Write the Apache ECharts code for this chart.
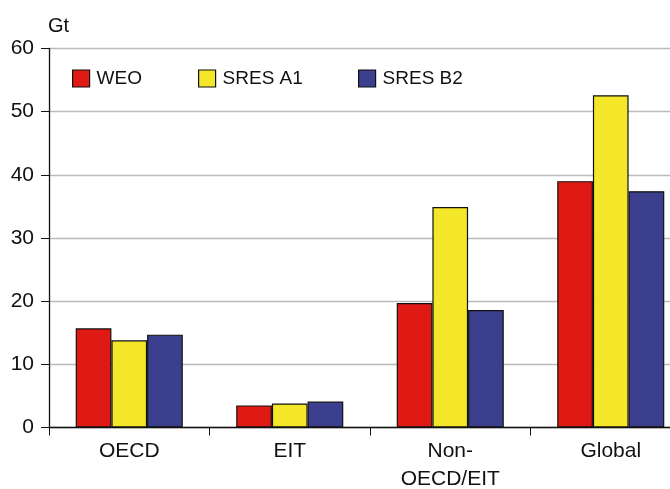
<!DOCTYPE html>
<html><head><meta charset="utf-8">
<script src="https://cdn.jsdelivr.net/npm/echarts@6/dist/echarts.min.js"></script>
<style>html,body{margin:0;padding:0;background:#fff}#c{width:670px;height:489px}</style>
</head><body><div id="c"></div>
<script>
const categories = ['OECD', 'EIT', 'Non-\nOECD/EIT', 'Global'];
const weo = [15.7, 3.5, 19.7, 39.0];
const sresA1 = [13.8, 3.8, 34.9, 52.6];
const sresB2 = [14.7, 4.1, 18.6, 37.4];
const seriesNames = ['WEO', 'SRES A1', 'SRES B2'];
const colors = ['#DF1A14', '#F4E72A', '#3C3F8E'];
const yTicks = [0, 10, 20, 30, 40, 50, 60];

const font = 'Liberation Sans, Arial, sans-serif';
const chart = echarts.init(document.getElementById('c'));
const legendLeft = [72, 198, 358];
chart.setOption({
  animation: false,
  textStyle: {fontFamily: font},
  title: {text: 'Gt', left: 43, top: 11, textStyle: {fontSize: 20, fontWeight: 'normal', color: '#111', fontFamily: font}},
  legend: seriesNames.map((n, i) => ({
    data: [n], left: legendLeft[i], top: 69, padding: 0, itemWidth: 17, itemHeight: 17, itemGap: 8,
    icon: 'rect',
    textStyle: {fontSize: 19, color: '#111', fontFamily: font, padding: [0, 0, 0, 2]},
    itemStyle: {borderColor: '#111', borderWidth: 1.2}
  })),
  grid: {left: 49, top: 48.5, width: 642, height: 379, containLabel: false, outerBoundsMode: 'none'},
  xAxis: {
    type: 'category', data: categories,
    axisLine: {lineStyle: {color: '#111', width: 1.3}},
    axisTick: {show: true, length: 8, lineStyle: {color: '#111'}, alignWithLabel: false},
    axisLabel: {fontSize: 21, color: '#111', margin: 10, lineHeight: 28, fontFamily: font},
    splitLine: {show: false}
  },
  yAxis: {
    type: 'value', min: yTicks[0], max: yTicks[yTicks.length - 1], interval: 10,
    axisLine: {show: true, lineStyle: {color: '#111', width: 1.3}},
    axisTick: {show: true, length: 8, lineStyle: {color: '#111'}},
    axisLabel: {fontSize: 21, color: '#111', margin: 15, fontFamily: font},
    splitLine: {lineStyle: {color: '#BBBBBB', width: 1.3}}
  },
  series: [weo, sresA1, sresB2].map((d, i) => ({
    name: seriesNames[i], type: 'bar', data: d,
    barGap: '0%', barCategoryGap: '33.3%',
    itemStyle: {color: colors[i], borderColor: '#111', borderWidth: 1.2}
  }))
});
</script></body></html>
